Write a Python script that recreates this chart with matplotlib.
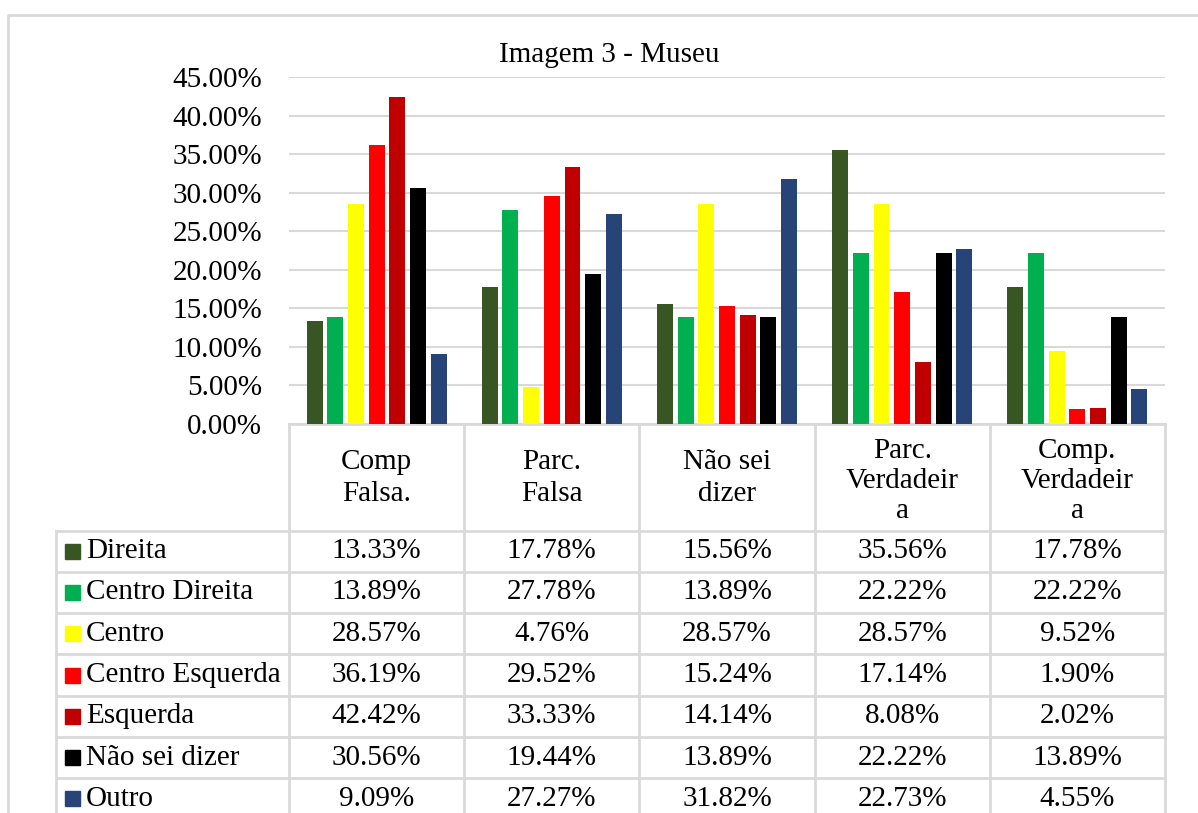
"""Imagem 3 - Museu: grouped bars with an Excel-style data table."""

import matplotlib.pyplot as plt
from matplotlib.patches import Rectangle


categories = ["Comp\nFalsa.", "Parc.\nFalsa", "Não sei\ndizer", "Parc.\nVerdadeir\na", "Comp.\nVerdadeir\na"]
series_names = ["Direita", "Centro Direita", "Centro", "Centro Esquerda", "Esquerda", "Não sei dizer", "Outro"]
direita = [13.33, 17.78, 15.56, 35.56, 17.78]
centro_direita = [13.89, 27.78, 13.89, 22.22, 22.22]
centro = [28.57, 4.76, 28.57, 28.57, 9.52]
centro_esquerda = [36.19, 29.52, 15.24, 17.14, 1.90]
esquerda = [42.42, 33.33, 14.14, 8.08, 2.02]
nao_sei = [30.56, 19.44, 13.89, 22.22, 13.89]
outro = [9.09, 27.27, 31.82, 22.73, 4.55]
yticks = [0, 5, 10, 15, 20, 25, 30, 35, 40, 45]

series = [direita, centro_direita, centro, centro_esquerda, esquerda, nao_sei, outro]
colors = ["#375623", "#00B050", "#FFFF00", "#FF0000", "#C00000", "#000000", "#264478"]

W, H = 1198, 813
GRID = "#D9D9D9"
FONT = "Liberation Serif"
FS = 21

plt.rcParams["font.family"] = [FONT, "DejaVu Serif"]

fig = plt.figure(figsize=(W / 100, H / 100), dpi=100)

# overlay in pixel coordinates for the border and the data table
over = fig.add_axes([0, 0, 1, 1])
over.set_xlim(0, W)
over.set_ylim(H, 0)
over.axis("off")

# plot area, placed in pixels
x0, x1 = 289, 1165
y_zero, y_top = 424, 77
ax = fig.add_axes([x0 / W, 1 - y_zero / H, (x1 - x0) / W, (y_zero - y_top) / H])
ax.set_xlim(0, len(categories))
ax.set_ylim(0, 45)
for t in yticks:
    ax.axhline(t, color=GRID, linewidth=1.5, zorder=0)
ax.set_xticks([])
ax.set_yticks(yticks)
ax.set_yticklabels([f"{t:.2f}%" for t in yticks], fontsize=FS)
ax.tick_params(axis="y", length=0, pad=19.5)
for s in ax.spines.values():
    s.set_visible(False)
ax.patch.set_alpha(0)

pitch, width = 0.118, 0.091
for j, (vals, col) in enumerate(zip(series, colors)):
    xs = [i + 0.5 + (j - 3) * pitch for i in range(len(categories))]
    ax.bar(xs, vals, width=width, color=col, zorder=2)

fig.text(609 / W, 1 - 55 / H, "Imagem 3 - Museu", ha="center", va="center", fontsize=FS)

# outer chart border
over.plot([7.5, 7.5, W], [H, 15, 15], color=GRID, linewidth=2)

# data table
col_w = (x1 - x0) / len(categories)
col_edges = [x0 + i * col_w for i in range(len(categories) + 1)]
head_bottom = 530.5
row_h = 41.3
n_rows = len(series)
table_bottom = head_bottom + n_rows * row_h
left = 55.5

over.plot([x0, x1], [y_zero, y_zero], color=GRID, linewidth=2)
for xe in col_edges:
    over.plot([xe, xe], [y_zero, table_bottom], color=GRID, linewidth=2)
over.plot([left, left], [head_bottom, table_bottom], color=GRID, linewidth=2)
for r in range(n_rows + 1):
    yy = head_bottom + r * row_h
    over.plot([left, x1], [yy, yy], color=GRID, linewidth=2)

for i, cat in enumerate(categories):
    three = cat.count("\n") == 2
    over.text(x0 + (i + 0.5) * col_w, 481 if three else 478, cat,
              ha="center", va="center", fontsize=FS, linespacing=1.18 if three else 1.26)

for r, (name, vals, col) in enumerate(zip(series_names, series, colors)):
    yc = head_bottom + (r + 0.5) * row_h
    over.add_patch(Rectangle((65, yc - 7.5), 15, 15, color=col))
    over.text(86, yc, name, ha="left", va="center", fontsize=FS)
    for i, v in enumerate(vals):
        over.text(x0 + (i + 0.5) * col_w, yc, f"{v:.2f}%", ha="center", va="center", fontsize=FS)

fig.savefig("out.png", dpi=100)
